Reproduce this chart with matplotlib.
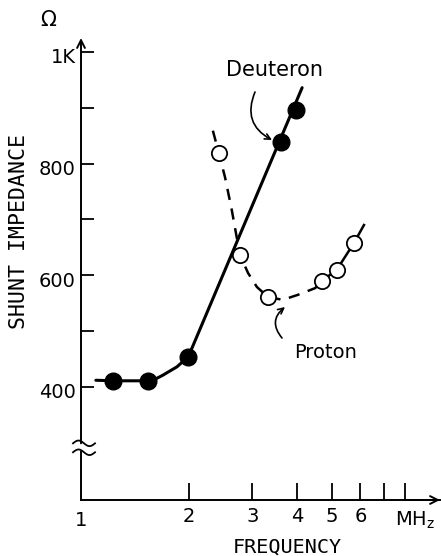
import numpy as np
import matplotlib.pyplot as plt
import matplotlib.transforms as mtransforms

# ---- data ----
deut_x = [1.23, 1.54, 1.99, 3.61, 3.97]
deut_y = [411, 411, 454, 839, 896]
deut_curve_x = [1.10, 1.23, 1.54, 1.61, 1.69, 1.85, 1.99, 4.13]
deut_curve_y = [412, 411, 411, 414, 421, 436, 454, 936]

prot_x = [2.42, 2.77, 3.32, 4.69, 5.16, 5.76]
prot_y = [819, 637, 561, 590, 610, 658]
prot_dash_x = [2.33, 2.42, 2.52, 2.63, 2.77, 2.92, 3.09, 3.32, 3.65, 4.02, 4.49, 4.69]
prot_dash_y = [859, 819, 775, 717, 637, 604, 579, 561, 556, 565, 577, 590]
prot_solid_x = [4.69, 5.16, 5.76, 6.14]
prot_solid_y = [590, 610, 658, 690]

y_ticks = [400, 500, 600, 700, 800, 900, 1000]
y_labels = ['400', '', '600', '', '800', '', '1K']
x_ticks = [2, 3, 4, 5, 6, 7, 8]
x_labels = ['2', '3', '4', '5', '6', '', '']

W, H = 441, 556
fig = plt.figure(figsize=(W / 100, H / 100), dpi=100)
ax = fig.add_axes([81 / W, 56 / H, 359 / W, 462 / H])
ax.set_xscale('log')
ax.set_xlim(1, 10)
ax.set_ylim(197.5, 1025)
for s in ax.spines.values():
    s.set_visible(False)

hand = 'DejaVu Sans'
ax.set_yticks(y_ticks)
ax.set_yticklabels(y_labels, fontsize=14, family=hand)
ax.set_xticks(x_ticks)
ax.set_xticks([], minor=True)
ax.set_xticklabels(x_labels, fontsize=14, family=hand)
ax.tick_params(axis='y', direction='in', length=9, width=1.3, pad=4)
ax.tick_params(axis='x', direction='in', length=12, width=1.3, pad=5)
offset = mtransforms.ScaledTranslation(0, -6 / 100, fig.dpi_scale_trans)
for lab in ax.get_yticklabels():
    lab.set_va('center')
    lab.set_transform(lab.get_transform() + offset)

# axes lines
bt = mtransforms.blended_transform_factory(ax.transAxes, ax.transData)
lo_break, hi_break = 283, 299
ax.plot([0, 0], [197.5, lo_break], color='black', lw=1.4, transform=bt, clip_on=False)
ax.plot([0, 1], [197.5, 197.5], color='black', lw=1.4, transform=bt, clip_on=False)
ax.annotate('', xy=(0, 1.0), xytext=(0, (hi_break - 197.5) / 827.5),
            xycoords='axes fraction',
            arrowprops=dict(arrowstyle='->', lw=1.4, color='black', shrinkA=0, shrinkB=0,
                            mutation_scale=14))
ax.annotate('', xy=(1.0, 0), xytext=(0.9, 0), xycoords='axes fraction',
            arrowprops=dict(arrowstyle='->', lw=1.4, color='black', shrinkA=0, shrinkB=0,
                            mutation_scale=14))
# break wiggles
t = np.linspace(0, 1, 40)
wx = (-8 + 22 * t) / 359
for yb in (hi_break, lo_break):
    wy = yb + 5 * np.sin(2 * np.pi * t)
    ax.plot(wx, wy, color='black', lw=1.3, transform=bt, clip_on=False)

# curves
ax.plot(deut_curve_x, deut_curve_y, color='black', lw=2.2, solid_capstyle='round', zorder=3)
ax.plot(deut_x, deut_y, 'o', color='black', ms=12, zorder=4)
ax.plot(prot_dash_x, prot_dash_y, color='black', lw=1.8, dashes=(4.5, 3.5), zorder=3)
ax.plot(prot_solid_x, prot_solid_y, color='black', lw=1.8, zorder=3)
ax.plot(prot_x, prot_y, 'o', mfc='white', mec='black', mew=1.3, ms=11, zorder=4)

# texts
def fp(x, y):
    return (x, H - y)

mono = 'DejaVu Sans Mono'
fig.text(81 / W, 1 - 521 / H, '1', fontsize=14, family=hand, ha='center', va='center')
fig.text(415 / W, 1 - 520 / H, 'MH$_\\mathregular{z}$', fontsize=14, family=hand,
         ha='center', va='center')
fig.text(48 / W, 1 - 20 / H, 'Ω', fontsize=15, family=hand, ha='center', va='center')
fig.text(19 / W, 1 - 231 / H, 'SHUNT IMPEDANCE', rotation=90, fontsize=15.5,
         family=mono, ha='center', va='center')
fig.text(287 / W, 1 - 547 / H, 'FREQUENCY', fontsize=14.5, family=mono,
         ha='center', va='center')
fig.text(275 / W, 1 - 70 / H, 'Deuteron', fontsize=15, family=hand, ha='center', va='center')
fig.text(326 / W, 1 - 353 / H, 'Proton', fontsize=14, family=hand, ha='center', va='center')

ax.annotate('', xy=fp(272, 140), xytext=fp(255, 92), xycoords='figure pixels',
            arrowprops=dict(arrowstyle='->', lw=1.2, color='black',
                            connectionstyle='arc3,rad=0.45', shrinkA=0, shrinkB=0))
ax.annotate('', xy=fp(285, 307), xytext=fp(282, 338), xycoords='figure pixels',
            arrowprops=dict(arrowstyle='->', lw=1.2, color='black',
                            connectionstyle='arc3,rad=-0.5', shrinkA=0, shrinkB=0))

fig.savefig('out.png', dpi=100, facecolor='white')
